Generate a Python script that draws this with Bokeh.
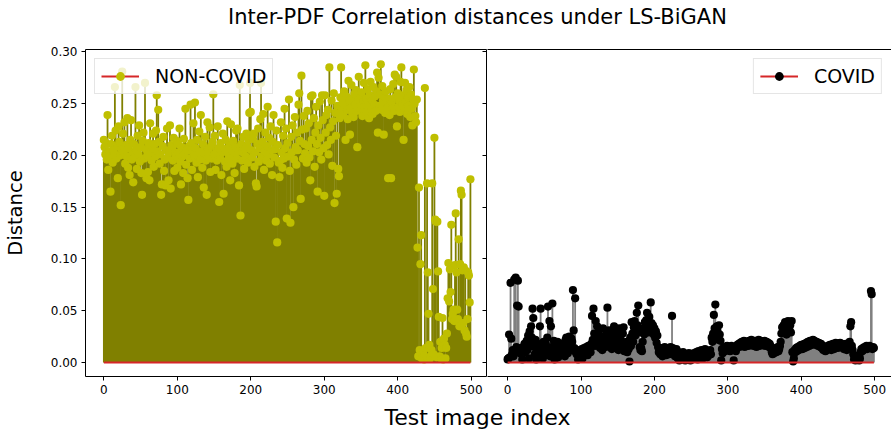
from bokeh.plotting import figure
from bokeh.models import (ColumnDataSource, Range1d, FixedTicker, PrintfTickFormatter,
                          CustomJSTickFormatter, LinearAxis, Legend, LegendItem, Div)
from bokeh.layouts import column, row
from bokeh.embed import file_html
from bokeh.resources import INLINE

FONT = "DejaVu Sans"
TITLE = "Inter-PDF Correlation distances under LS-BiGAN"
X_LABEL = "Test image index"
Y_LABEL = "Distance"
series_labels = ["NON-COVID", "COVID"]
x_ticks = [0, 100, 200, 300, 400, 500]
y_ticks = [0.00, 0.05, 0.10, 0.15, 0.20, 0.25, 0.30]
BASELINE = 0.0

noncovid = [
    0.215, 0.208, 0.201, 0.212, 0.196, 0.239, 0.186, 0.204, 0.199, 0.165, 0.211, 0.219, 0.193, 0.205, 0.202, 0.266, 0.224, 0.197, 0.209, 0.178, 0.228, 0.213, 0.200, 0.152, 0.206,
    0.281, 0.221, 0.203, 0.232, 0.192, 0.210, 0.199, 0.236, 0.188, 0.207, 0.181, 0.215, 0.234, 0.196, 0.203, 0.174, 0.211, 0.198, 0.266, 0.205, 0.187, 0.219, 0.201, 0.229, 0.194,
    0.208, 0.183, 0.162, 0.214, 0.222, 0.197, 0.270, 0.206, 0.178, 0.200, 0.184, 0.212, 0.176, 0.231, 0.203, 0.195, 0.207, 0.221, 0.189, 0.211, 0.199, 0.224, 0.258, 0.204, 0.244,
    0.213, 0.192, 0.201, 0.162, 0.172, 0.209, 0.218, 0.185, 0.196, 0.171, 0.205, 0.226, 0.198, 0.176, 0.203, 0.229, 0.168, 0.210, 0.207, 0.195, 0.217, 0.185, 0.202, 0.199, 0.214,
    0.188, 0.211, 0.203, 0.226, 0.194, 0.172, 0.208, 0.199, 0.183, 0.216, 0.201, 0.245, 0.191, 0.205, 0.178, 0.157, 0.209, 0.197, 0.249, 0.212, 0.186, 0.203, 0.231, 0.199, 0.251,
    0.207, 0.193, 0.215, 0.179, 0.201, 0.223, 0.196, 0.239, 0.204, 0.188, 0.211, 0.169, 0.202, 0.218, 0.195, 0.162, 0.232, 0.206, 0.199, 0.227, 0.184, 0.209, 0.197, 0.213, 0.259,
    0.201, 0.219, 0.186, 0.204, 0.195, 0.228, 0.207, 0.155, 0.198, 0.212, 0.181, 0.203, 0.221, 0.163, 0.206, 0.194, 0.215, 0.189, 0.233, 0.202, 0.197, 0.210, 0.176, 0.230, 0.205,
    0.192, 0.214, 0.199, 0.183, 0.208, 0.224, 0.197, 0.226, 0.204, 0.171, 0.268, 0.142, 0.211, 0.195, 0.203, 0.218, 0.187, 0.206, 0.199, 0.221, 0.209, 0.193, 0.215, 0.241, 0.270,
    0.242, 0.205, 0.198, 0.216, 0.221, 0.189, 0.203, 0.173, 0.170, 0.211, 0.226, 0.194, 0.207, 0.235, 0.270, 0.199, 0.213, 0.240, 0.186, 0.204, 0.222, 0.195, 0.209, 0.247, 0.201,
    0.217, 0.192, 0.228, 0.205, 0.181, 0.213, 0.239, 0.198, 0.206, 0.136, 0.224, 0.116, 0.210, 0.193, 0.179, 0.195, 0.232, 0.203, 0.188, 0.219, 0.197, 0.245, 0.207, 0.226, 0.139,
    0.212, 0.199, 0.254, 0.185, 0.135, 0.218, 0.203, 0.229, 0.150, 0.196, 0.237, 0.208, 0.191, 0.222, 0.205, 0.249, 0.260, 0.214, 0.158, 0.277, 0.225, 0.197, 0.238, 0.211, 0.202,
    0.226, 0.193, 0.243, 0.209, 0.231, 0.198, 0.176, 0.257, 0.215, 0.258, 0.204, 0.236, 0.189, 0.222, 0.247, 0.211, 0.165, 0.229, 0.203, 0.252, 0.217, 0.196, 0.258, 0.234, 0.207,
    0.161, 0.258, 0.222, 0.239, 0.210, 0.244, 0.201, 0.285, 0.227, 0.215, 0.253, 0.190, 0.233, 0.260, 0.154, 0.241, 0.219, 0.163, 0.248, 0.187, 0.180, 0.236, 0.256, 0.285, 0.243,
    0.251, 0.239, 0.262, 0.248, 0.215, 0.257, 0.244, 0.235, 0.272, 0.253, 0.220, 0.246, 0.268, 0.241, 0.255, 0.237, 0.259, 0.249, 0.263, 0.243, 0.208, 0.254, 0.276, 0.247, 0.258,
    0.244, 0.261, 0.238, 0.252, 0.270, 0.247, 0.287, 0.255, 0.242, 0.264, 0.250, 0.236, 0.258, 0.271, 0.245, 0.253, 0.240, 0.266, 0.249, 0.257, 0.243, 0.262, 0.280, 0.222, 0.275,
    0.248, 0.259, 0.288, 0.244, 0.267, 0.253, 0.220, 0.257, 0.241, 0.262, 0.250, 0.246, 0.178, 0.255, 0.239, 0.264, 0.178, 0.251, 0.245, 0.269, 0.243, 0.278, 0.256, 0.276, 0.228,
    0.260, 0.247, 0.253, 0.242, 0.271, 0.285, 0.249, 0.258, 0.215, 0.244, 0.270, 0.252, 0.263, 0.240, 0.256, 0.248, 0.266, 0.237, 0.259, 0.245, 0.229, 0.254, 0.283, 0.250, 0.238,
    0.232, 0.254, 0.111, 0.006, 0.169, 0.012, 0.095, 0.123, 0.004, 0.009, 0.011, 0.003, 0.265, 0.014, 0.005, 0.173, 0.087, 0.047, 0.017, 0.004, 0.006, 0.012, 0.173, 0.071, 0.008,
    0.217, 0.138, 0.136, 0.005, 0.136, 0.088, 0.044, 0.006, 0.020, 0.004, 0.014, 0.043, 0.003, 0.023, 0.017, 0.004, 0.014, 0.028, 0.062, 0.096, 0.059, 0.090, 0.068, 0.133, 0.042,
    0.047, 0.051, 0.040, 0.094, 0.144, 0.087, 0.051, 0.042, 0.119, 0.035, 0.095, 0.166, 0.162, 0.089, 0.038, 0.092, 0.031, 0.089, 0.028, 0.025, 0.042, 0.087, 0.084, 0.058, 0.177,
]

covid = [
    0.003, 0.004, 0.027, 0.005, 0.077, 0.023, 0.008, 0.012, 0.006, 0.080, 0.010, 0.082, 0.015, 0.055, 0.079, 0.054, 0.012, 0.009, 0.014, 0.011, 0.003, 0.015, 0.013, 0.018, 0.010,
    0.016, 0.021, 0.012, 0.026, 0.004, 0.030, 0.019, 0.035, 0.024, 0.052, 0.043, 0.015, 0.008, 0.022, 0.003, 0.013, 0.018, 0.006, 0.011, 0.035, 0.052, 0.010, 0.016, 0.004, 0.020,
    0.013, 0.007, 0.018, 0.009, 0.024, 0.054, 0.011, 0.040, 0.006, 0.035, 0.015, 0.057, 0.012, 0.021, 0.003, 0.017, 0.009, 0.014, 0.020, 0.005, 0.016, 0.012, 0.018, 0.010, 0.008,
    0.015, 0.011, 0.019, 0.006, 0.022, 0.024, 0.013, 0.009, 0.021, 0.025, 0.017, 0.012, 0.023, 0.020, 0.070, 0.031, 0.014, 0.062, 0.010, 0.008, 0.012, 0.003, 0.011, 0.009, 0.006,
    0.010, 0.013, 0.004, 0.012, 0.014, 0.009, 0.011, 0.015, 0.013, 0.007, 0.016, 0.012, 0.014, 0.010, 0.018, 0.045, 0.022, 0.052, 0.028, 0.016, 0.040, 0.024, 0.035, 0.019, 0.030,
    0.026, 0.014, 0.021, 0.018, 0.012, 0.033, 0.017, 0.025, 0.020, 0.015, 0.028, 0.053, 0.019, 0.031, 0.022, 0.016, 0.027, 0.013, 0.024, 0.018, 0.035, 0.021, 0.014, 0.030, 0.019,
    0.026, 0.012, 0.033, 0.017, 0.022, 0.031, 0.015, 0.028, 0.034, 0.011, 0.019, 0.014, 0.020, 0.010, 0.017, 0.013, 0.001, 0.024, 0.016, 0.039, 0.028, 0.020, 0.034, 0.040, 0.026,
    0.031, 0.048, 0.036, 0.055, 0.029, 0.015, 0.012, 0.014, 0.011, 0.020, 0.033, 0.027, 0.039, 0.030, 0.041, 0.048, 0.035, 0.029, 0.044, 0.032, 0.058, 0.038, 0.030, 0.036, 0.027,
    0.033, 0.024, 0.030, 0.019, 0.026, 0.015, 0.010, 0.012, 0.008, 0.014, 0.011, 0.006, 0.013, 0.009, 0.015, 0.012, 0.007, 0.010, 0.014, 0.011, 0.008, 0.013, 0.015, 0.012, 0.045,
    0.014, 0.010, 0.012, 0.006, 0.009, 0.013, 0.011, 0.004, 0.008, 0.002, 0.005, 0.009, 0.003, 0.007, 0.010, 0.004, 0.006, 0.002, 0.008, 0.005, 0.003, 0.007, 0.009, 0.004, 0.002,
    0.006, 0.003, 0.008, 0.005, 0.009, 0.004, 0.007, 0.010, 0.006, 0.003, 0.011, 0.008, 0.005, 0.009, 0.012, 0.007, 0.004, 0.010, 0.006, 0.013, 0.008, 0.011, 0.005, 0.009, 0.007,
    0.010, 0.012, 0.008, 0.024, 0.020, 0.028, 0.046, 0.033, 0.056, 0.025, 0.035, 0.030, 0.022, 0.036, 0.027, 0.021, 0.002, 0.013, 0.009, 0.012, 0.015, 0.011, 0.014, 0.013, 0.016,
    0.012, 0.015, 0.014, 0.011, 0.013, 0.016, 0.012, 0.014, 0.002, 0.013, 0.015, 0.011, 0.014, 0.017, 0.016, 0.018, 0.015, 0.019, 0.017, 0.020, 0.016, 0.018, 0.021, 0.015, 0.019,
    0.017, 0.020, 0.018, 0.016, 0.021, 0.019, 0.017, 0.022, 0.018, 0.020, 0.016, 0.019, 0.021, 0.017, 0.015, 0.020, 0.018, 0.022, 0.019, 0.016, 0.021, 0.018, 0.020, 0.017, 0.019,
    0.021, 0.016, 0.018, 0.020, 0.017, 0.019, 0.015, 0.018, 0.016, 0.013, 0.010, 0.008, 0.012, 0.009, 0.011, 0.014, 0.010, 0.012, 0.015, 0.011, 0.013, 0.016, 0.020, 0.028, 0.034,
    0.030, 0.036, 0.032, 0.039, 0.035, 0.027, 0.033, 0.040, 0.037, 0.031, 0.036, 0.029, 0.040, 0.010, 0.001, 0.004, 0.012, 0.010, 0.014, 0.011, 0.015, 0.013, 0.012, 0.016, 0.014,
    0.017, 0.015, 0.013, 0.016, 0.018, 0.014, 0.017, 0.019, 0.015, 0.020, 0.018, 0.016, 0.021, 0.019, 0.017, 0.020, 0.022, 0.018, 0.021, 0.019, 0.017, 0.020, 0.018, 0.016, 0.019,
    0.017, 0.015, 0.018, 0.014, 0.016, 0.012, 0.015, 0.013, 0.011, 0.014, 0.012, 0.016, 0.013, 0.015, 0.017, 0.014, 0.012, 0.016, 0.018, 0.015, 0.013, 0.017, 0.019, 0.016, 0.018,
    0.014, 0.017, 0.015, 0.019, 0.016, 0.018, 0.015, 0.017, 0.013, 0.016, 0.014, 0.018, 0.012, 0.015, 0.017, 0.013, 0.020, 0.035, 0.039, 0.016, 0.012, 0.008, 0.003, 0.005, 0.002,
    0.004, 0.006, 0.003, 0.005, 0.002, 0.004, 0.010, 0.013, 0.011, 0.014, 0.012, 0.015, 0.013, 0.014, 0.016, 0.013, 0.015, 0.014, 0.016, 0.015, 0.069, 0.066, 0.013, 0.015, 0.014,
]

Y_RANGE = (-0.0135, 0.3023)
FIG_H = 362


def empty_fmt():
    return CustomJSTickFormatter(code="return ''")


def style_axis(ax, size="12px"):
    ax.axis_line_color = "black"
    ax.axis_line_width = 1
    ax.major_tick_line_color = "black"
    ax.major_tick_line_width = 1
    ax.minor_tick_line_color = None
    ax.major_label_text_font = FONT
    ax.major_label_text_font_size = size
    ax.major_label_text_color = "black"


def panel(values, label, stem_color, marker_color, x_start, x_end, width,
          border_left, border_right, legend_loc, is_left):
    idx = list(range(len(values)))
    src = ColumnDataSource(dict(x=idx, y=values, base=[BASELINE] * len(values)))
    p = figure(width=width, height=FIG_H,
               x_range=Range1d(x_start, x_end), y_range=Range1d(*Y_RANGE),
               output_backend="svg", toolbar_location=None,
               y_axis_location="left" if is_left else None,
               min_border_left=border_left, min_border_right=border_right,
               min_border_top=9, min_border_bottom=26)
    p.outline_line_color = None
    p.xgrid.visible = False
    p.ygrid.visible = False
    p.background_fill_color = "white"
    p.border_fill_color = "white"

    p.segment(x0="x", y0="base", x1="x", y1="y", source=src,
              line_color=stem_color, line_width=1.8)
    dots = p.scatter(x="x", y="y", source=src, size=8.2,
                     fill_color=marker_color, line_color=None)
    base = p.line(x=[idx[0], idx[-1]], y=[BASELINE, BASELINE],
                  line_color="#d62728", line_width=1.8)

    xa = p.xaxis[0]
    xa.ticker = FixedTicker(ticks=x_ticks, minor_ticks=[])
    style_axis(xa)
    xa.major_tick_out = 4
    xa.major_tick_in = 0
    xa.major_label_standoff = 4

    top = LinearAxis(ticker=FixedTicker(ticks=[], minor_ticks=[]), formatter=empty_fmt(),
                     major_label_standoff=0, major_tick_out=0, major_tick_in=0)
    style_axis(top)
    top.major_tick_line_color = None
    p.add_layout(top, "above")

    if is_left:
        ya = p.yaxis[0]
        ya.ticker = FixedTicker(ticks=y_ticks, minor_ticks=[])
        ya.formatter = PrintfTickFormatter(format="%.2f")
        style_axis(ya)
        ya.major_tick_out = 4
        ya.major_tick_in = 0
        ya.major_label_standoff = 4
        ya.axis_label = Y_LABEL
        ya.axis_label_text_font = FONT
        ya.axis_label_text_font_size = "19.5px"
        ya.axis_label_text_font_style = "normal"
        ya.axis_label_text_color = "black"
        ya.axis_label_standoff = 21
        mid = LinearAxis(ticker=FixedTicker(ticks=y_ticks, minor_ticks=[]), formatter=empty_fmt(),
                         major_label_standoff=0, major_tick_out=0, major_tick_in=4)
        style_axis(mid)
        p.add_layout(mid, "right")

    leg = Legend(items=[LegendItem(label=label, renderers=[base, dots])],
                 location=legend_loc, margin=9, padding=6, spacing=0,
                 glyph_width=38, glyph_height=22, label_standoff=16,
                 label_text_font=FONT, label_text_font_size="19px",
                 label_text_color="black",
                 border_line_color="#cccccc", border_line_width=1,
                 background_fill_color="white", background_fill_alpha=0.8)
    p.add_layout(leg)
    return p


p_left = panel(noncovid, series_labels[0], "#808000", "#bfbf00",
               -25.0, 520.9, 487, 85, 1, "top_left", True)
p_right = panel(covid, series_labels[1], "#808080", "#000000",
                -27.4, 523.0, 404, 0, 0, "top_right", False)

BASE_CSS = ("font-family:'DejaVu Sans';color:#000;text-align:center;white-space:nowrap;"
            "display:block;box-sizing:border-box;width:891px;padding-left:64px;")
title_div = Div(text=f'<div style="{BASE_CSS}font-size:21px;line-height:26px;padding-top:4px;">{TITLE}</div>',
                width=891, height=40, margin=(0, 0, 0, 0))
xlabel_div = Div(text=f'<div style="{BASE_CSS}font-size:22px;line-height:26px;padding-top:3px;">{X_LABEL}</div>',
                 width=891, height=30, margin=(0, 0, 0, 0))

layout = column(title_div, row(p_left, p_right, spacing=0), xlabel_div, spacing=0)

open("out.html", "w").write(file_html(layout, INLINE))
